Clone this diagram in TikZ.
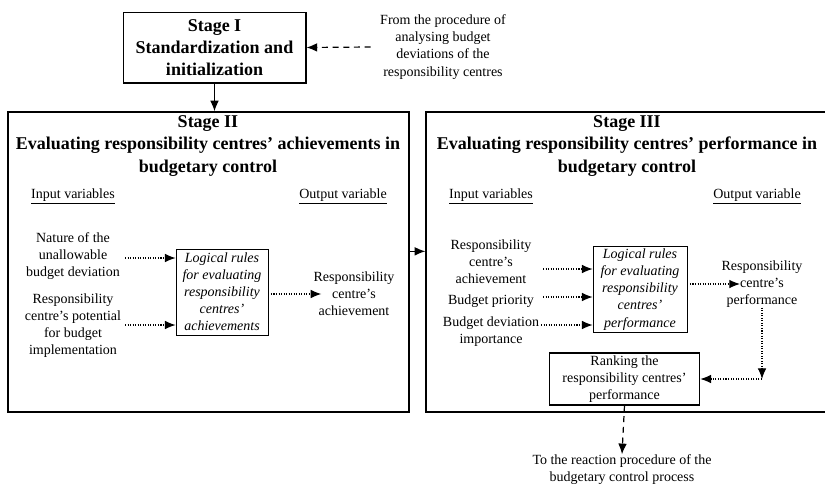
\documentclass[tikz,border=0pt]{standalone}
\usepackage{fontspec}
\setmainfont{Liberation Serif}
\usetikzlibrary{fit,arrows.meta}
\tikzset{
	txt/.style={align=center, inner sep=0pt, font=\fontsize{10.5}{12.8}\selectfont},
	ttl/.style={align=center, inner sep=0pt, font=\fontsize{13.5}{16.6}\selectfont\bfseries},
	rulebox/.style={draw, line width=0.6pt, align=center, inner sep=0pt, font=\fontsize{10.5}{12.8}\selectfont\itshape},
	arr/.style={-{Latex[length=8pt,width=6.5pt]}},
	flow/.style={arr, dash pattern=on 0.8pt off 1.1pt, line width=0.8pt},
	extflow/.style={arr, dash pattern=on 4.5pt off 3.5pt, line width=0.9pt}
}
\begin{document}
\begin{tikzpicture}[x=0.75pt, y=-0.75pt]
		\useasboundingbox (0,0) rectangle (825,486);
		
		% stage I
		\node[draw, line width=1pt, ttl, minimum width=137pt, minimum height=53pt] (stage1) at (214.5,47.5) {Stage I\\Standardization and\\initialization};
		\node[txt] (src) at (443,47) {From the procedure of\\analysing budget\\deviations of the\\responsibility centres};
		\draw[extflow] ([xshift=-7pt]src.west) -- (stage1.east);
		
		% stage II
		\node[draw, line width=1pt, inner sep=0pt, fit={(8,112) (409,412)}] (stage2) {};
		\node[ttl] (title2) at (208,146) {Stage II\\Evaluating responsibility centres' achievements in\\budgetary control};
		\node[txt] (in2) at (73,196) {\underline{Input variables}};
		\node[txt] (out2lbl) at (343,196) {\underline{Output variable}};
		\node[txt] (nat) at (73,256) {Nature of the\\unallowable\\budget deviation};
		\node[txt] (pot) at (73,326) {Responsibility\\centre's potential\\for budget\\implementation};
		\node[rulebox, minimum width=69pt, minimum height=64.5pt] (rule2) at (222,292) {Logical rules\\for evaluating\\responsibility\\centres'\\achievements};
		\node[txt] (ach2) at (354,294) {Responsibility\\centre's\\achievement};
		\coordinate (a1) at (125,258);
		\coordinate (a2) at (125,325);
		\draw[flow] (a1) -- (a1 -| rule2.west);
		\draw[flow] (a2) -- (a2 -| rule2.west);
		\draw[flow] (rule2.east |- ach2) -- ([xshift=6pt]ach2.west);
		
		\draw[line width=0.9pt, arr] (stage1.south) -- (stage1.south |- stage2.north);
		
		% stage III
		\node[draw, line width=1pt, inner sep=0pt, fit={(426,112) (827,412)}] (stage3) {};
		\node[ttl] (title3) at (627,146) {Stage III\\Evaluating responsibility centres' performance in\\budgetary control};
		\node[txt] (in3) at (491,196) {\underline{Input variables}};
		\node[txt] (out3lbl) at (757,196) {\underline{Output variable}};
		\node[txt] (ach3) at (491,262) {Responsibility\\centre's\\achievement};
		\node[txt] (prio) at (491,301) {Budget priority};
		\node[txt] (imp) at (491,332) {Budget deviation\\importance};
		\node[rulebox, minimum width=70.5pt, minimum height=64pt] (rule3) at (640,289.5) {Logical rules\\for evaluating\\responsibility\\centres'\\performance};
		\node[txt] (perf) at (762,284) {Responsibility\\centre's\\performance};
		\coordinate (b1) at (543,269);
		\coordinate (b2) at (543,297);
		\coordinate (b3) at (541,325);
		\draw[flow] (b1) -- (b1 -| rule3.west);
		\draw[flow] (b2) -- (b2 -| rule3.west);
		\draw[flow] (b3) -- (b3 -| rule3.west);
		\draw[flow] (rule3.east |- perf) -- ([xshift=14pt]perf.west);
		
		\node[draw, line width=0.8pt, txt, minimum width=113pt, minimum height=39pt] (rank) at (624.5,379) {Ranking the\\responsibility centres'\\performance};
		\coordinate (turn) at (762,379);
		\draw[flow] (perf.south) -- (turn);
		\draw[flow] (turn) -- (rank.east);
		
		\draw[line width=0.9pt, arr] ([yshift=8pt]stage2.east) -- ([yshift=8pt]stage3.west);
		
		\node[txt] (dest) at (622,469.5) {To the reaction procedure of the\\budgetary control process};
		\draw[extflow] (rank.south) -- (dest.north);
	\end{tikzpicture}
\end{document}
